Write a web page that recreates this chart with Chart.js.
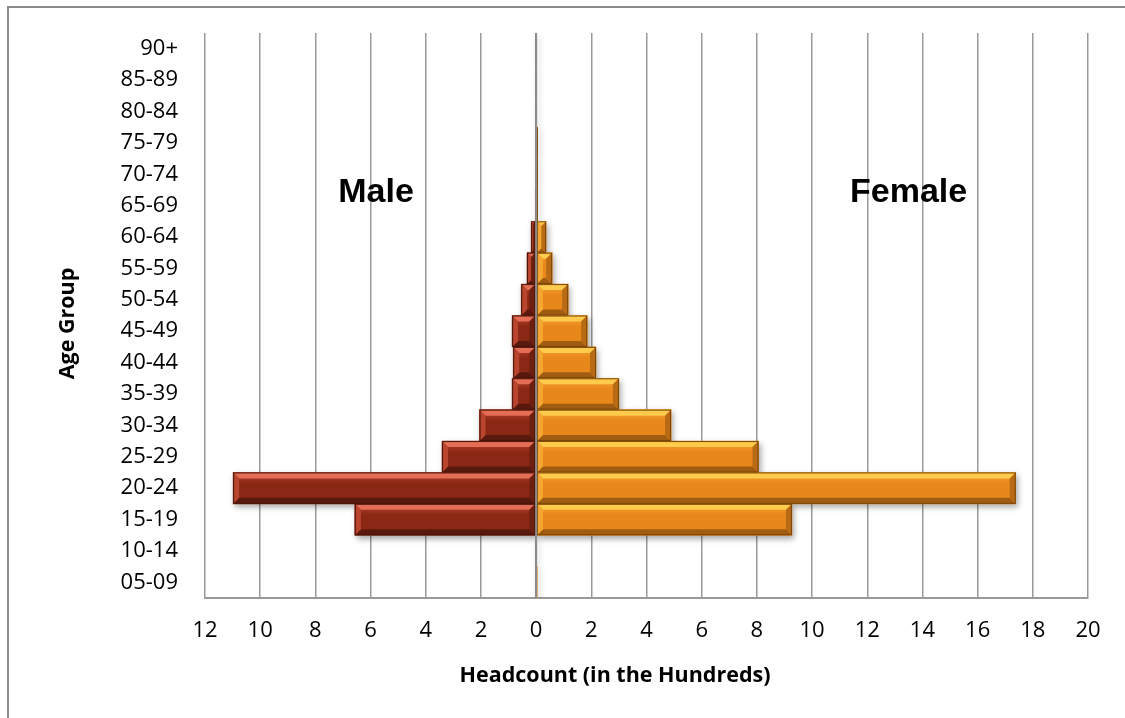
<!DOCTYPE html>
<html>
<head>
<meta charset="utf-8">
<script src="https://cdn.jsdelivr.net/npm/chart.js@4"></script>
<style>
  body { margin: 0; background: #fff; }
  canvas { display: block; }
</style>
</head>
<body>
<canvas id="pyramid" width="1125" height="718"></canvas>
<script>
const ageGroups = ['05-09', '10-14', '15-19', '20-24', '25-29', '30-34', '35-39', '40-44', '45-49',
  '50-54', '55-59', '60-64', '65-69', '70-74', '75-79', '80-84', '85-89', '90+'];
const maleCounts = [0, 0, 6.57, 10.98, 3.41, 2.05, 0.87, 0.83, 0.87, 0.54, 0.33, 0.18, 0.03, 0, 0, 0, 0, 0];
const femaleCounts = [0.04, 0, 9.27, 17.38, 8.06, 4.89, 3.0, 2.17, 1.85, 1.16, 0.58, 0.36, 0.05, 0.05, 0.05, 0, 0, 0];
const xTicks = { min: -12, max: 20, step: 2 };

const tickFont = { family: 'Open Sans', size: 22 };
const gridGrey = '#9a9a9a';

const palettes = [
  { face: '#8b2815', top: '#e36d55', left: '#b9452f', bottom: '#5a190d', right: '#6d2010', edge: '#4a150a' },
  { face: '#e8871a', top: '#ffcb4c', left: '#f6a733', bottom: '#a05c10', right: '#b86b14', edge: '#7a4508' }
];

function shade(ctx, pts, color) {
  ctx.beginPath();
  ctx.moveTo(pts[0][0], pts[0][1]);
  for (let i = 1; i < pts.length; i++) ctx.lineTo(pts[i][0], pts[i][1]);
  ctx.closePath();
  ctx.fillStyle = color;
  ctx.fill();
}

const bevelBars = {
  id: 'bevelBars',
  beforeDraw(chart) {
    const ctx = chart.ctx;
    ctx.save();
    ctx.strokeStyle = '#8a8a8a';
    ctx.lineWidth = 2;
    ctx.beginPath();
    ctx.moveTo(chart.width, 7);
    ctx.lineTo(8, 7);
    ctx.lineTo(8, chart.height);
    ctx.stroke();
    ctx.restore();
  },
  beforeDatasetsDraw(chart) {
    const ctx = chart.ctx;
    ctx.save();
    ctx.shadowColor = 'rgba(0,0,0,0.35)';
    ctx.shadowBlur = 6;
    ctx.shadowOffsetX = 2;
    ctx.shadowOffsetY = 3;
  },
  afterDatasetsDraw(chart) {
    const ctx = chart.ctx;
    ctx.restore();
    chart.data.datasets.forEach((ds, i) => {
      const pal = palettes[i];
      chart.getDatasetMeta(i).data.forEach(bar => {
        const p = bar.getProps(['x', 'y', 'base', 'height'], true);
        const l = Math.min(p.x, p.base), r = Math.max(p.x, p.base);
        const t = p.y - p.height / 2, b = p.y + p.height / 2;
        const w = r - l;
        if (w < 0.5) return;
        const bv = Math.min(6, w / 2, p.height / 2);
        const g = ctx.createLinearGradient(0, t, 0, b);
        g.addColorStop(0, pal.left);
        g.addColorStop(0.35, pal.face);
        g.addColorStop(1, pal.face);
        ctx.fillStyle = g;
        ctx.fillRect(l, t, w, p.height);
        shade(ctx, [[l, t], [r, t], [r - bv, t + bv], [l + bv, t + bv]], pal.top);
        shade(ctx, [[l, b], [r, b], [r - bv, b - bv], [l + bv, b - bv]], pal.bottom);
        shade(ctx, [[l, t], [l + bv, t + bv], [l + bv, b - bv], [l, b]], pal.left);
        shade(ctx, [[r, t], [r - bv, t + bv], [r - bv, b - bv], [r, b]], pal.right);
        ctx.strokeStyle = pal.edge;
        ctx.lineWidth = 1;
        ctx.strokeRect(l + 0.5, t + 0.5, w - 1, p.height - 1);
      });
    });
    // zero axis drawn over the bars
    const xs = chart.scales.x;
    const x0 = xs.getPixelForValue(0);
    ctx.save();
    ctx.strokeStyle = '#8c8c8c';
    ctx.lineWidth = 2;
    ctx.beginPath();
    ctx.moveTo(x0, chart.chartArea.top);
    ctx.lineTo(x0, chart.chartArea.bottom);
    ctx.stroke();
    ctx.restore();
  },
  afterDraw(chart) {
    const ctx = chart.ctx;
    const xs = chart.scales.x, ys = chart.scales.y;
    ctx.save();
    ctx.fillStyle = '#000';
    ctx.textAlign = 'center';
    ctx.textBaseline = 'alphabetic';
    ctx.font = 'bold 34px "Liberation Sans", Arial';
    const yLab = (ys.getPixelForValue(12) + ys.getPixelForValue(13)) / 2 + 12;
    ctx.fillText('Male', xs.getPixelForValue(-5.8), yLab);
    ctx.fillText('Female', xs.getPixelForValue(13.5), yLab);

    ctx.font = 'bold 21.5px "Open Sans"';
    ctx.textBaseline = 'middle';
    ctx.fillText('Headcount (in the Hundreds)', 615, 676);
    ctx.translate(68, (chart.chartArea.top + chart.chartArea.bottom) / 2 + 8);
    ctx.rotate(-Math.PI / 2);
    ctx.fillText('Age Group', 0, 0);
    ctx.restore();
  }
};

new Chart(document.getElementById('pyramid'), {
  type: 'bar',
  data: {
    labels: ageGroups,
    datasets: [
      {
        label: 'Male',
        data: maleCounts.map(v => -v),
        backgroundColor: palettes[0].face,
        borderWidth: 0,
        barPercentage: 1,
        categoryPercentage: 1
      },
      {
        label: 'Female',
        data: femaleCounts,
        backgroundColor: palettes[1].face,
        borderWidth: 0,
        barPercentage: 1,
        categoryPercentage: 1
      }
    ]
  },
  options: {
    indexAxis: 'y',
    responsive: false,
    animation: false,
    layout: { padding: { top: 33, right: 37, left: 0, bottom: 0 } },
    plugins: {
      legend: { display: false },
      tooltip: { enabled: false }
    },
    scales: {
      x: {
        stacked: true,
        min: xTicks.min,
        max: xTicks.max,
        ticks: {
          stepSize: xTicks.step,
          color: '#000',
          font: tickFont,
          padding: 20,
          callback: v => Math.abs(v)
        },
        grid: { color: gridGrey, lineWidth: 1.5, drawTicks: false },
        border: { color: gridGrey, width: 2 },
        afterFit: scale => {
          scale.height = 120;
          scale.paddingLeft = 0;
          scale.paddingRight = 0;
        }
      },
      y: {
        stacked: true,
        reverse: true,
        ticks: { color: '#000', font: tickFont, padding: 27, autoSkip: false },
        grid: { display: false, drawTicks: false },
        border: { display: false },
        afterFit: scale => {
          scale.width = 205;
          scale.paddingTop = 0;
          scale.paddingBottom = 0;
        }
      }
    }
  },
  plugins: [bevelBars]
});
</script>
</body>
</html>
